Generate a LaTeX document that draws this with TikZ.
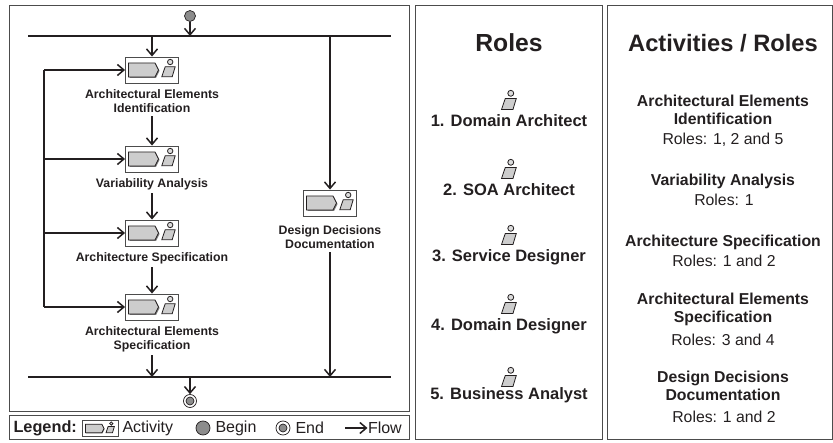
\documentclass[tikz,border=0pt]{standalone}
\usepackage{fontspec}
\setmainfont{Liberation Sans}
\usetikzlibrary{arrows.meta,calc}
\definecolor{ink}{HTML}{231F20}
\definecolor{shade}{HTML}{CDCDCD}
\tikzset{
	% person of a role
	person/.pic={
		\draw[ink,line width=.8pt,fill=shade] (-7.7,7.7) -- (2.7,7.7) -- (5.7,-2.3) -- (-4.3,-2.3) -- cycle;
		\draw[ink,line width=.8pt,fill=shade!70!white] (.7,-7) circle (2.7);
	},
	% activity symbol: pentagon with shadow and its person
	acticon/.pic={
		\fill[gray] (-22.5,-6) -- (4,-6) -- (7.5,1) -- (4,8) -- (-22.5,8) -- cycle;
		\draw[ink,line width=.8pt,fill=shade] (-23.5,-7) -- (3,-7) -- (6.5,0) -- (3,7) -- (-23.5,7) -- cycle;
		\pic[scale=#1] at (17.5,-1) {person};
	}
}
\begin{document}
\begin{tikzpicture}[x=1pt,y=-1pt,ink,line width=1pt]
	\tikzstyle{panel} = [draw=black!70,line width=1pt]
	\tikzstyle{bar} = [line width=1.7pt]
	\tikzstyle{flow} = [line width=1.5pt,-{Straight Barb[length=6.5pt,width=11pt,line width=1.5pt]}]
	\tikzstyle{activity} = [draw=black!70,fill=white,line width=.9pt,minimum width=53,minimum height=26,inner sep=0pt]
	\tikzstyle{smallactivity} = [draw=black!70,fill=white,line width=.9pt,minimum width=36,minimum height=16,inner sep=0pt]
	\tikzstyle{role} = [minimum size=24,inner sep=0pt]
	\tikzstyle{begin} = [draw=ink,fill=gray!90,line width=.7pt,shape=circle,minimum size=11,inner sep=0pt]
	\tikzstyle{finish} = [draw=ink,fill=white,line width=.7pt,shape=circle,minimum size=13,inner sep=0pt,
		path picture={\draw[ink,line width=.7pt,fill=gray!90] (path picture bounding box.center) circle (4);}]
	\tikzstyle{acttext} = [font=\fontsize{12.3}{14}\selectfont\bfseries,align=center,inner sep=3pt]
	\tikzstyle{title} = [font=\fontsize{23.7}{26}\selectfont\bfseries]
	\tikzstyle{head} = [font=\fontsize{15.8}{18}\selectfont\bfseries,align=center,inner sep=0pt]
	\tikzstyle{rolename} = [font=\fontsize{16.5}{18}\selectfont\bfseries,inner sep=0pt]
	\tikzstyle{body} = [font=\fontsize{15.8}{18}\selectfont,inner sep=0pt]
	\tikzstyle{legend} = [font=\fontsize{16}{18}\selectfont,anchor=west,inner sep=0pt]
	\useasboundingbox (0,0) rectangle (833,443);
	% Panels.
	\draw[panel] (9,5.5) rectangle (409,412);
	\draw[panel] (9,416) rectangle (409,439.5);
	\draw[panel] (415,5.5) rectangle (602,440);
	\draw[panel] (607.5,5.5) rectangle (832.5,440);
	% Bars.
	\coordinate (topl) at (28,36);
	\coordinate (topr) at (391,36);
	\coordinate (botl) at (28,377);
	\coordinate (botr) at (391,377);
	\draw[bar] (topl) -- (topr);
	\draw[bar] (botl) -- (botr);
	% Activities.
	\node[begin] (start) at (190,16) {};
	\node[finish] (stop) at (190,401) {};
	\node[activity] (act1) at (152,70) {};
	\node[activity] (act2) at (152,159) {};
	\node[activity] (act3) at (152,233) {};
	\node[activity] (act4) at (152,307) {};
	\node[activity] (act5) at (330,203) {};
	\foreach \i in {1,...,5}
		\pic at (act\i) {acticon=1};
	\node[acttext] (lab1) at (152,101) {Architectural Elements\\Identification};
	\node[acttext] (lab2) at (152,184) {Variability Analysis};
	\node[acttext] (lab3) at (152,258) {Architecture Specification};
	\node[acttext] (lab4) at (152,339) {Architectural Elements\\Specification};
	\node[acttext] (lab5) at (330,237) {Design Decisions\\Documentation};
	% Flows.
	\draw[flow] (start) -- (start |- topl);
	\draw[flow] (act1 |- topl) -- (act1);
	\draw[flow] (lab1) -- (act2);
	\draw[flow] (lab2) -- (act3);
	\draw[flow] (lab3) -- (act4);
	\draw[flow] (lab4) -- (lab4 |- botl);
	\draw[flow] (act5 |- topl) -- (act5);
	\draw[flow] (lab5) -- (lab5 |- botl);
	\draw[flow] (stop |- botl) -- (stop);
	% Way back to the activities.
	\coordinate (loop) at (44,70);
	\draw[line width=1.5pt] (loop) -- (loop |- act4);
	\foreach \i in {1,...,4}
		\draw[flow] (loop |- act\i) -- (act\i);
	% Legend.
	\node[legend,font=\fontsize{16.3}{18}\selectfont\bfseries] (leg) at (13,428) {Legend:};
	\node[smallactivity] (legact) at (100,428.5) {};
	\pic[scale=.62] at (legact) {acticon=.62};
	\node[legend] (legacttext) at (122,428) {Activity};
	\node[begin,minimum size=14] (legbegin) at (203,428) {};
	\node[legend] (legbegintext) at (215,428) {Begin};
	\node[finish,minimum size=14] (legend) at (283,428) {};
	\node[legend] (legendtext) at (295,428) {End};
	\node[legend] (legflow) at (367.5,428) {Flow};
	\coordinate (legarrow) at (345,428);
	\draw[flow] (legarrow) -- (legflow);
	% Roles.
	\node[title,font=\fontsize{24.7}{26}\selectfont\bfseries] (roles) at (509,43) {Roles};
	\node[role] (role1) at (510,101) {};
	\node[rolename] (rolet1) at (509,121) {1. Domain Architect};
	\node[role] (role2) at (510,170) {};
	\node[rolename] (rolet2) at (509,190) {2. SOA Architect};
	\node[role] (role3) at (510,236) {};
	\node[rolename] (rolet3) at (509,257) {3. Service Designer};
	\node[role] (role4) at (510,305) {};
	\node[rolename] (rolet4) at (509,326) {4. Domain Designer};
	\node[role] (role5) at (510,378) {};
	\node[rolename] (rolet5) at (509,395) {5. Business Analyst};
	\foreach \i in {1,...,5}
		\pic[scale=1.1] at (role\i) {person};
	% Activities / Roles.
	\node[title] (actroles) at (723,43) {Activities / Roles};
	\node[head] (ar1) at (723,110) {Architectural Elements\\Identification};
	\node[body] (arr1) at (723,140) {Roles: 1, 2 and 5};
	\node[head] (ar2) at (723,181) {Variability Analysis};
	\node[body] (arr2) at (724,200) {Roles: 1};
	\node[head] (ar3) at (723,242) {Architecture Specification};
	\node[body] (arr3) at (724,261) {Roles: 1 and 2};
	\node[head] (ar4) at (723,309) {Architectural Elements\\Specification};
	\node[body] (arr4) at (723,340) {Roles: 3 and 4};
	\node[head] (ar5) at (723,386) {Design Decisions\\Documentation};
	\node[body] (arr5) at (724,417) {Roles: 1 and 2};
\end{tikzpicture}
\end{document}
